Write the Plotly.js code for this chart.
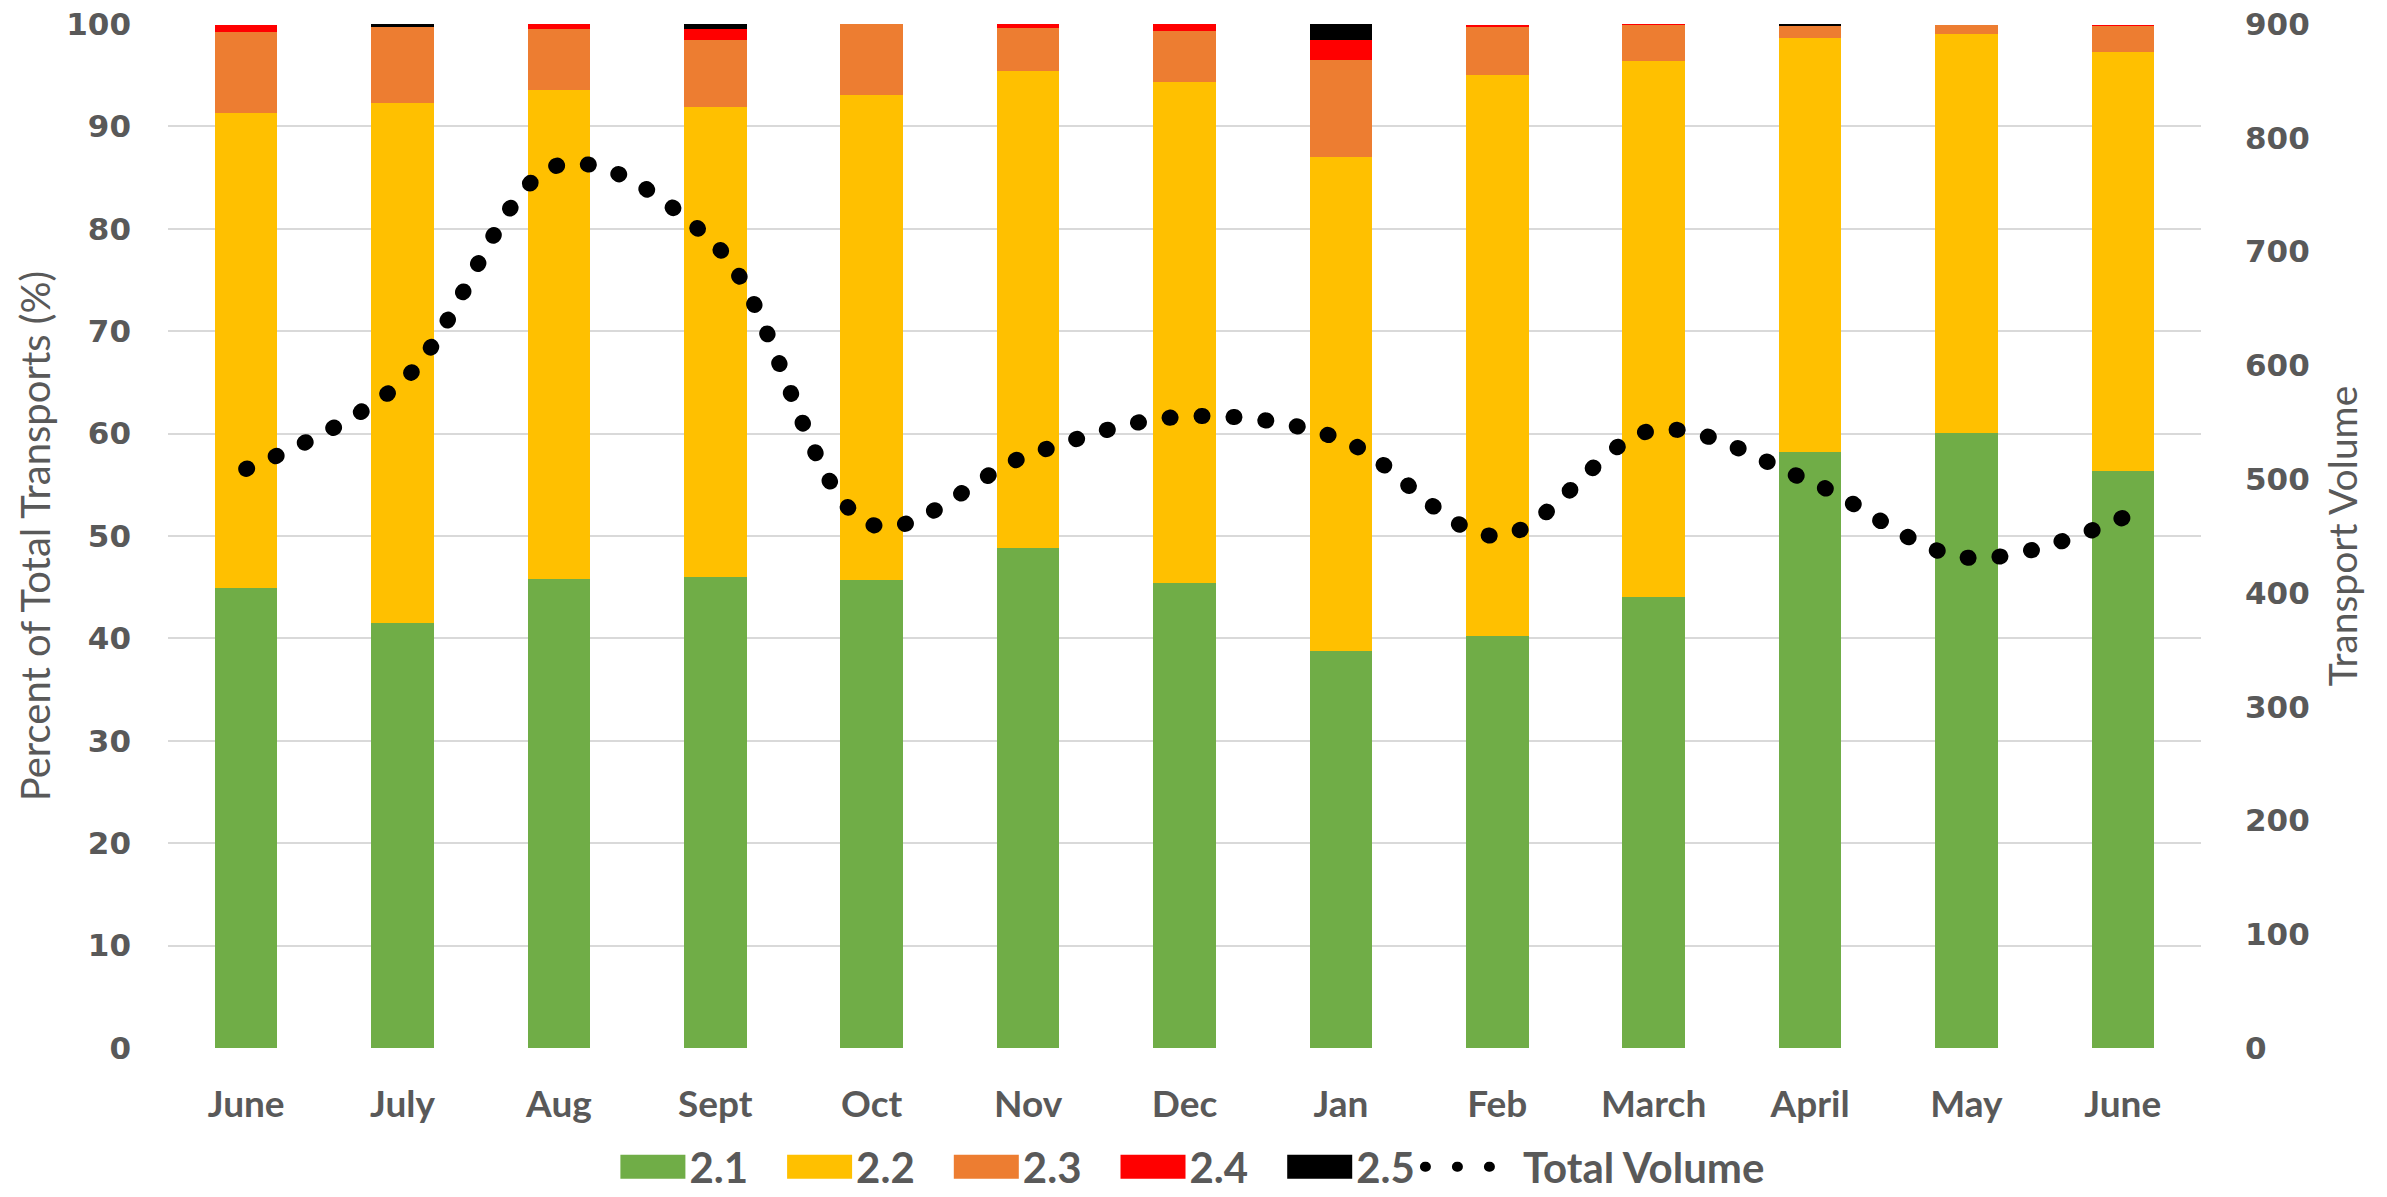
<!DOCTYPE html>
<html><head><meta charset="utf-8">
<script src="https://cdn.plot.ly/plotly-3.0.1.min.js"></script>
<style>
html,body{margin:0;padding:0;background:#fff;}
#chart{width:2387px;height:1197px;}
.scatterlayer .js-line, .legend .js-line {stroke-linecap: round;}
.legend { translate: 0px 4px; }
</style></head><body><div id="chart"></div><script>
// Month categories (two Junes, so x positions are indices with month tick labels)
const months = ['June','July','Aug','Sept','Oct','Nov','Dec','Jan','Feb','March','April','May','June'];
// Percent of total transports by class
const s21 = [44.9, 41.5, 45.8, 46.0, 45.7, 48.8, 45.4, 38.8, 40.2, 44.0, 58.2, 60.1, 56.3];
const s22 = [46.4, 50.8, 47.8, 45.9, 47.4, 46.6, 48.9, 48.2, 54.8, 52.4, 40.4, 38.9, 41.0];
const s23 = [7.9, 7.4, 5.9, 6.5, 6.9, 4.2, 5.0, 9.5, 4.7, 3.5, 1.2, 0.9, 2.5];
const s24 = [0.75, 0, 0.5, 1.1, 0, 0.36, 0.72, 1.9, 0.16, 0.08, 0, 0, 0.13];
const s25 = [0, 0.33, 0, 0.55, 0, 0, 0, 1.6, 0, 0, 0.16, 0, 0];
// Total transport volume
const totalVolume = [509, 586, 776, 706, 460, 521, 555, 535, 450, 543, 498, 431, 466];

const xpos = months.map((m, i) => i);
const textColor = '#595959';
const fontFam = 'Lato, "Open Sans", sans-serif';
const numFam = '"DejaVu Sans", Verdana, sans-serif';

function barTrace(name, vals, color) {
  return {type: 'bar', name: name, x: xpos, y: vals, marker: {color: color, line: {width: 0}},
          hoverinfo: 'y+name'};
}
const data = [
  barTrace('2.1', s21, '#70AD47'),
  barTrace('2.2', s22, '#FFC000'),
  barTrace('2.3', s23, '#ED7D31'),
  barTrace('2.4', s24, '#FF0000'),
  barTrace('2.5', s25, '#000000'),
  {type: 'scatter', mode: 'lines', name: 'Total Volume', x: xpos, y: totalVolume, yaxis: 'y2',
   line: {color: '#000000', width: 16, dash: '1px,31px', shape: 'spline', smoothing: 1}}
];

const layout = {
  width: 2387, height: 1197,
  paper_bgcolor: '#ffffff', plot_bgcolor: '#ffffff',
  margin: {l: 168, r: 186, t: 24, b: 149, pad: 0},
  barmode: 'stack', bargap: 0.6,
  font: {family: fontFam, color: textColor, size: 30},
  showlegend: true,
  legend: {orientation: 'h', xref: 'paper', x: 0.497, xanchor: 'center',
           yref: 'container', y: 0, yanchor: 'bottom',
           font: {family: fontFam, size: 42, color: textColor, weight: 'bold'},
           itemwidth: 93, traceorder: 'normal'},
  xaxis: {range: [-0.5, 12.5], tickvals: xpos, ticktext: months, showgrid: false, zeroline: false,
          showline: false, ticks: '', ticklabelstandoff: 31,
          tickfont: {family: fontFam, size: 37, color: textColor, weight: 'bold'}, fixedrange: true},
  yaxis: {range: [0, 100], dtick: 10, tick0: 0, showgrid: true, gridcolor: '#D9D9D9', gridwidth: 2,
          zeroline: false, showline: false, ticks: '', ticklabelstandoff: 36,
          tickfont: {family: numFam, size: 31, color: textColor, weight: 'bold'},
          title: {text: 'Percent of Total Transports (%)', standoff: 3,
                  font: {family: fontFam, size: 40, color: textColor}}, automargin: false},
  yaxis2: {range: [0, 900], dtick: 100, tick0: 0, overlaying: 'y', side: 'right', showgrid: false,
           zeroline: false, showline: false, ticks: '', ticklabelstandoff: 43,
           tickfont: {family: numFam, size: 31, color: textColor, weight: 'bold'},
           title: {text: 'Transport Volume', standoff: 20,
                   font: {family: fontFam, size: 39, color: textColor}}, automargin: false}
};

// Widen the bar legend keys into Excel-style rectangles sitting just before their labels
function widenLegendKeys(gd) {
  gd.querySelectorAll('.legend .traces').forEach(function (g) {
    const path = g.querySelector('.legendpoints path');
    const text = g.querySelector('text.legendtext');
    if (!path || !text) return;
    const pr = path.getBoundingClientRect();
    const tr = text.getBoundingClientRect();
    const cx = pr.left + pr.width / 2;
    const want = tr.left - 4 - 32.5;
    const lc = want - cx;
    path.setAttribute('d', 'M' + (lc + 32.5) + ',12H' + (lc - 32.5) + 'V-12H' + (lc + 32.5) + 'Z');
  });
}

Plotly.newPlot('chart', data, layout, {displayModeBar: false, staticPlot: true})
  .then(function (gd) { widenLegendKeys(gd); });
</script></body></html>
